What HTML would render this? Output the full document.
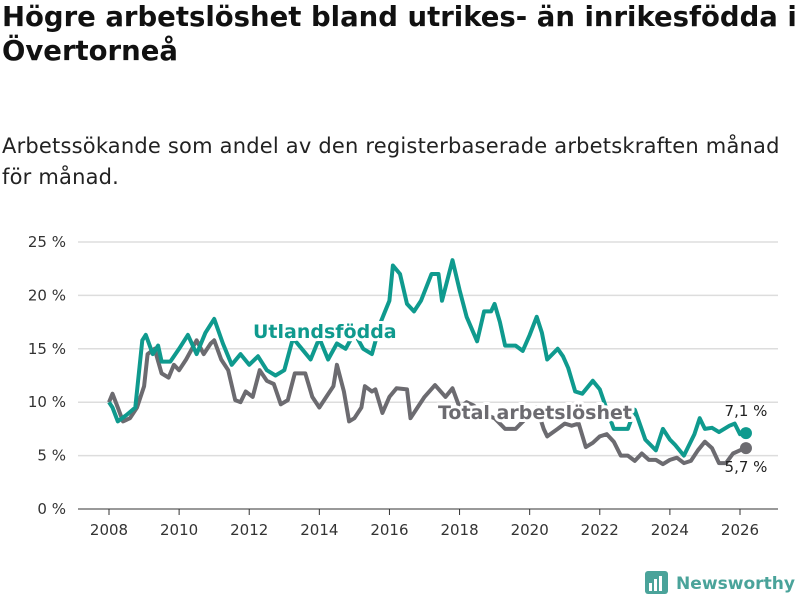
<!DOCTYPE html>
<html><head><meta charset="utf-8"><style>
body{margin:0;background:#fff;font-family:"Liberation Sans","DejaVu Sans",sans-serif;}
#wrap{position:relative;width:800px;height:600px;overflow:hidden}
h1{position:absolute;left:2px;top:0px;margin:0;font-size:27.5px;line-height:34px;font-weight:bold;color:#111;font-family:"DejaVu Sans",sans-serif;letter-spacing:0px;white-space:nowrap}
p.sub{position:absolute;left:2px;top:131px;margin:0;font-size:21px;line-height:31px;color:#222;font-family:"DejaVu Sans",sans-serif;letter-spacing:0.2px;width:798px;white-space:nowrap}
svg text{font-family:"DejaVu Sans",sans-serif}
</style></head><body>
<div id="wrap">
<h1>Högre arbetslöshet bland utrikes- än inrikesfödda i<br>Övertorneå</h1>
<p class="sub">Arbetssökande som andel av den registerbaserade arbetskraften månad<br>för månad.</p>
<svg id="chart" width="800" height="600" style="position:absolute;left:0;top:0"></svg>
</div>
<script>
const yTicks=[0,5,10,15,20,25];
const xTicks=[2008,2010,2012,2014,2016,2018,2020,2022,2024,2026];
const utlT=[2008,2008.1,2008.25,2008.5,2008.75,2008.95,2009.05,2009.25,2009.4,2009.5,2009.75,2010,2010.25,2010.5,2010.75,2011,2011.25,2011.5,2011.75,2012,2012.25,2012.5,2012.75,2013,2013.25,2013.5,2013.75,2014,2014.25,2014.5,2014.75,2015,2015.25,2015.5,2015.75,2016,2016.1,2016.3,2016.5,2016.7,2016.9,2017.2,2017.4,2017.5,2017.8,2018,2018.2,2018.5,2018.7,2018.9,2019,2019.15,2019.3,2019.6,2019.8,2020,2020.2,2020.35,2020.5,2020.8,2020.95,2021.1,2021.3,2021.5,2021.8,2022,2022.2,2022.4,2022.8,2023,2023.3,2023.6,2023.8,2024,2024.15,2024.4,2024.7,2024.85,2025,2025.2,2025.4,2025.7,2025.85,2026,2026.17];
const utlV=[10,9.5,8.2,8.8,9.5,15.8,16.3,14.5,15.3,13.8,13.8,15,16.3,14.5,16.5,17.8,15.5,13.5,14.5,13.5,14.3,13,12.5,13,16,15,14,16,14,15.5,15,16.5,15,14.5,17.5,19.5,22.8,22,19.2,18.5,19.5,22,22,19.5,23.3,20.5,18,15.7,18.5,18.5,19.2,17.5,15.3,15.3,14.8,16.3,18,16.5,14,15,14.3,13.2,11,10.8,12,11.2,9.3,7.5,7.5,9.3,6.5,5.5,7.5,6.5,6,5,7,8.5,7.5,7.6,7.2,7.8,8,7,7.1];
const totT=[2008,2008.1,2008.25,2008.4,2008.6,2008.8,2009,2009.1,2009.3,2009.5,2009.7,2009.85,2010,2010.2,2010.5,2010.7,2010.9,2011,2011.2,2011.4,2011.6,2011.75,2011.9,2012.1,2012.3,2012.5,2012.7,2012.9,2013.1,2013.3,2013.6,2013.8,2014,2014.2,2014.4,2014.5,2014.7,2014.85,2015,2015.2,2015.3,2015.5,2015.6,2015.8,2016,2016.2,2016.5,2016.6,2016.8,2017,2017.3,2017.6,2017.8,2018,2018.2,2018.4,2018.6,2019,2019.3,2019.6,2019.9,2020.2,2020.4,2020.5,2020.8,2021,2021.2,2021.4,2021.6,2021.8,2022,2022.2,2022.4,2022.6,2022.8,2023,2023.2,2023.4,2023.6,2023.8,2024,2024.2,2024.4,2024.6,2024.8,2025,2025.2,2025.4,2025.6,2025.8,2026,2026.17];
const totV=[10,10.8,9.5,8.2,8.5,9.5,11.5,14.5,15,12.7,12.3,13.5,13,14,15.8,14.5,15.5,15.8,14,13,10.2,10,11,10.5,13,12,11.7,9.8,10.2,12.7,12.7,10.5,9.5,10.5,11.5,13.5,11,8.2,8.5,9.5,11.5,11,11.2,9,10.5,11.3,11.2,8.5,9.5,10.5,11.6,10.5,11.3,9.5,10,9.7,9,8.5,7.5,7.5,8.5,9.5,7.5,6.8,7.5,8,7.8,8,5.8,6.2,6.8,7,6.3,5,5,4.5,5.2,4.6,4.6,4.2,4.6,4.8,4.3,4.5,5.5,6.3,5.7,4.3,4.3,5.2,5.5,5.7];
const NS="http://www.w3.org/2000/svg";
const svg=document.getElementById('chart');
const x=t=>109+(t-2008)*(631/18);
const y=v=>509-v*10.68;
function mk(tag,attrs,txt){const e=document.createElementNS(NS,tag);for(const k in attrs)e.setAttribute(k,attrs[k]);if(txt!==undefined)e.textContent=txt;svg.appendChild(e);return e;}
yTicks.forEach(v=>{
 const l=mk('line',{x1:78,x2:778,y1:y(v),y2:y(v),stroke:v===0?'#333':'#ddd','stroke-width':v===0?1:1.5});
 
 
 const t=mk('text',{x:66,y:y(v)+5,'text-anchor':'end','font-size':15,fill:'#333'},v+' %');
 
 
});
xTicks.forEach(v=>{
 const l=mk('line',{x1:x(v),x2:x(v),y1:509,y2:515,stroke:'#333'});
 
 
 const t=mk('text',{x:x(v),y:535,'text-anchor':'middle','font-size':15,fill:'#333'},v);
 
 
});
function line(T,V,col,name){
 const d=T.map((t,i)=>(i?'L':'M')+x(t).toFixed(1)+','+y(V[i]).toFixed(1)).join('');
 const p=mk('path',{d:d,fill:'none',stroke:col,'stroke-width':4,'stroke-linejoin':'round'});
 
 
 const c=mk('circle',{cx:x(T[T.length-1]),cy:y(V[V.length-1]),r:6,fill:col});
 
 
}
line(totT,totV,'#6c6b70','total');
line(utlT,utlV,'#0f9a8e','utlandsfodda');
const halo={'paint-order':'stroke',stroke:'#fff','stroke-width':6,'stroke-linejoin':'round','font-weight':'bold','font-size':19};
const l1=mk('text',Object.assign({x:253,y:338,fill:'#0f9a8e'},halo),'Utlandsfödda');


const l2=mk('text',Object.assign({x:438,y:419,fill:'#6c6b70'},halo),'Total arbetslöshet');


const v1=mk('text',{x:746,y:416,'text-anchor':'middle','font-size':15,fill:'#222'},'7,1 %');


const v2=mk('text',{x:746,y:472,'text-anchor':'middle','font-size':15,fill:'#222'},'5,7 %');


const g=document.createElementNS(NS,'g');


g.innerHTML='<rect x="645" y="571" width="23" height="23" rx="3" fill="#4aa39a"/><rect x="649" y="583" width="3" height="8" fill="#fff"/><rect x="654" y="579" width="3" height="12" fill="#fff"/><rect x="659" y="576" width="3" height="15" fill="#fff"/><text x="676" y="589" font-size="17" font-weight="bold" fill="#4aa39a" textLength="119" lengthAdjust="spacingAndGlyphs">Newsworthy</text>';
svg.appendChild(g);
</script>
</body></html>
